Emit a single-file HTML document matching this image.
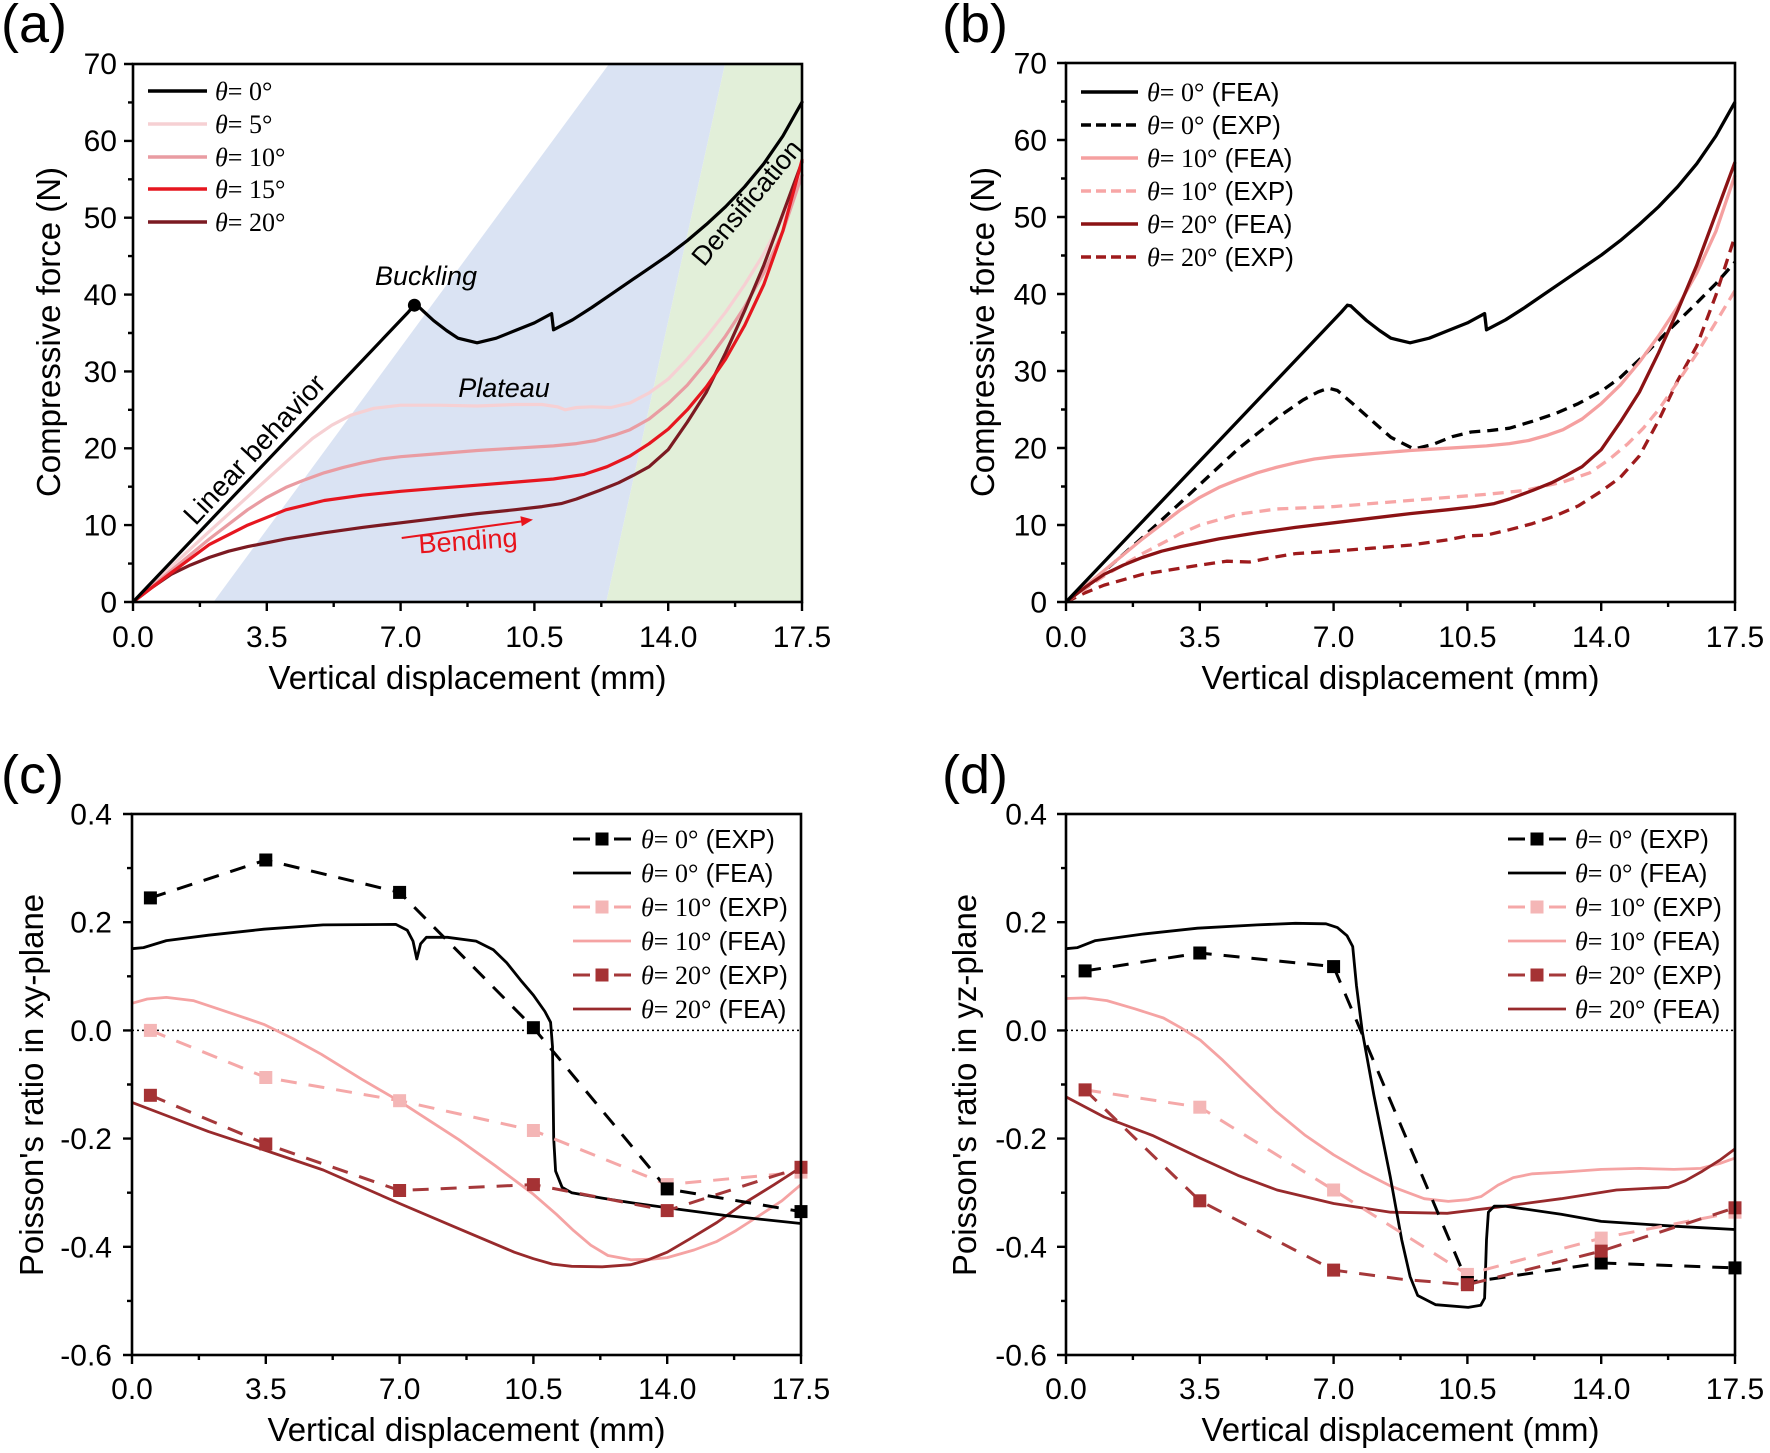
<!DOCTYPE html>
<html><head><meta charset="utf-8"><style>
html,body{margin:0;padding:0;background:#fff;}
svg{display:block;font-family:"Liberation Sans",Arial,sans-serif;}
.ser{font-family:"Liberation Serif","Times New Roman",serif;}
</style></head><body>
<svg width="1770" height="1453" viewBox="0 0 1770 1453" xmlns="http://www.w3.org/2000/svg">
<rect width="1770" height="1453" fill="#fff"/>

<!-- ================= PANEL (a) ================= -->
<g transform="translate(133,602)">
 <polygon points="80.5,0 476,-538 592,-538 473.3,0" fill="#dae3f3"/>
 <polygon points="473.3,0 592,-538 669,-538 669,0" fill="#e2efd9"/>
 <g fill="none" stroke-width="3.2" stroke-linejoin="round" stroke-linecap="round">
  <polyline stroke="#f6d0d3" points="0,0 38.2,-35.4 76.5,-70.7 114.7,-105.3 137.6,-126.1 160.6,-146.8 179.7,-163.7 198.8,-176.8 217.9,-186.8 240.8,-193.7 267.6,-196.8 305.8,-196.8 344.1,-196 382.3,-197.5 409,-197.5 424.4,-195.2 432,-192.2 443.5,-194.5 458.8,-195.2 477.9,-194.5 497,-199.1 516.1,-209.1 535.2,-222.9 554.3,-242.9 573.4,-265.2 592.6,-289.8 611.7,-317.4 630.8,-348.2 649.9,-384.3 669,-426.6"/>
  <polyline stroke="#e99ca2" points="0,0 38.2,-31.5 76.5,-63.1 114.7,-92.3 133.8,-104.6 152.9,-114.6 172,-122.3 191.2,-129.2 210.3,-134.6 229.4,-139.2 248.5,-143 267.6,-145.3 305.8,-148.4 344.1,-151.5 382.3,-153.8 420.5,-156.1 443.5,-158.4 462.6,-161.5 481.7,-166.9 497,-172.3 516.1,-183 535.2,-198.4 554.3,-216.9 573.4,-239.9 592.6,-266.1 611.7,-295.3 630.8,-329.1 649.9,-370.7 669,-426.8"/>
  <polyline stroke="#7b1a22" points="0,0 19.1,-14.6 38.2,-27.7 57.3,-36.9 76.5,-44.6 95.6,-50.8 114.7,-55.4 133.8,-59.2 152.9,-63.1 191.2,-69.2 229.4,-74.6 267.6,-79.2 305.8,-83.8 344.1,-88.4 382.3,-92.3 409.1,-95.4 428.2,-98.4 443.5,-103 466.4,-111.5 485.5,-119.2 500.8,-126.9 516.1,-135.3 535.2,-152.3 554.3,-179.9 573.4,-209.9 592.6,-249.2 611.7,-291.5 630.8,-336.8 649.9,-388.3 669,-439.9"/>
  <polyline stroke="#e6161f" points="0,0 38.2,-29.2 76.5,-57.6 114.7,-76.9 152.9,-92.2 191.2,-101.5 229.4,-106.8 267.6,-110.7 305.8,-113.8 344.1,-116.8 382.3,-119.9 420.5,-123 451.1,-127.6 474.1,-135.3 497,-146 516.1,-158.3 535.2,-172.9 554.3,-192.2 573.4,-215.2 592.6,-242.9 611.7,-276.7 630.8,-317.4 649.9,-371.2 669,-441.9"/>
  <polyline stroke="#000" points="0,0 275.3,-289.9 281.4,-296.8 284.8,-296.1 290.5,-290.7 300.5,-281.5 313.5,-271.5 325,-263.8 344.1,-259.2 363.2,-263.8 382.3,-271.5 401.4,-279.1 418.6,-288.4 420.5,-272.2 439.6,-282.2 458.8,-294.5 477.9,-307.6 497,-320.7 516.1,-333.7 535.2,-346.8 554.3,-361.4 573.4,-377.6 592.6,-395.3 611.7,-415.3 630.8,-438.3 649.9,-466 669,-499.9"/>
 </g>
 <circle cx="281.4" cy="-296.8" r="6.5" fill="#000"/>
 <rect x="0" y="-538" width="669" height="538" fill="none" stroke="#000" stroke-width="2.6"/>
 <path d="M0,0v9M133.8,0v9M267.6,0v9M401.4,0v9M535.2,0v9M669,0v9M66.9,0v5M200.7,0v5M334.5,0v5M468.3,0v5M602.1,0v5M0,0h-9M0,-76.9h-9M0,-153.7h-9M0,-230.6h-9M0,-307.4h-9M0,-384.3h-9M0,-461.1h-9M0,-538h-9M0,-38.4h-5M0,-115.3h-5M0,-192.2h-5M0,-269h-5M0,-345.9h-5M0,-422.7h-5M0,-499.6h-5" stroke="#000" stroke-width="2.4" fill="none"/>
</g>
<!-- annotations (a) -->
<text x="426" y="285" font-size="27" font-style="italic" text-anchor="middle">Buckling</text>
<text x="504" y="397" font-size="27" font-style="italic" text-anchor="middle">Plateau</text>
<text transform="translate(254,449) rotate(-47)" font-size="28" text-anchor="middle" y="10">Linear behavior</text>
<text transform="translate(746,202) rotate(-50)" font-size="27" text-anchor="middle" y="10">Densification</text>
<text transform="translate(468,542) rotate(-4)" font-size="27" fill="#e8141c" text-anchor="middle" y="8">Bending</text>
<line x1="401.7" y1="538" x2="522" y2="521.4" stroke="#e8141c" stroke-width="2"/>
<polygon points="533,519.6 521.8,526.2 520.4,516.2" fill="#e8141c"/>
<!-- legend (a) -->
<g stroke-width="3.6">
 <line x1="148" y1="91" x2="207" y2="91" stroke="#000"/>
 <line x1="148" y1="124" x2="207" y2="124" stroke="#f6d0d3"/>
 <line x1="148" y1="157" x2="207" y2="157" stroke="#e99ca2"/>
 <line x1="148" y1="189" x2="207" y2="189" stroke="#e6161f"/>
 <line x1="148" y1="222" x2="207" y2="222" stroke="#7b1a22"/>
</g>
<g font-size="26" class="ser">
 <text x="215" y="100"><tspan font-style="italic">θ</tspan>= 0°</text>
 <text x="215" y="133"><tspan font-style="italic">θ</tspan>= 5°</text>
 <text x="215" y="166"><tspan font-style="italic">θ</tspan>= 10°</text>
 <text x="215" y="198"><tspan font-style="italic">θ</tspan>= 15°</text>
 <text x="215" y="231"><tspan font-style="italic">θ</tspan>= 20°</text>
</g>
<!-- tick labels (a) -->
<g font-size="30" text-anchor="end">
 <text x="117" y="612.5">0</text><text x="117" y="535.6">10</text><text x="117" y="458.7">20</text><text x="117" y="381.8">30</text><text x="117" y="304.9">40</text><text x="117" y="228">50</text><text x="117" y="151.1">60</text><text x="117" y="74.2">70</text>
</g>
<g font-size="30" text-anchor="middle">
 <text x="133" y="647">0.0</text><text x="266.8" y="647">3.5</text><text x="400.6" y="647">7.0</text><text x="534.4" y="647">10.5</text><text x="668.2" y="647">14.0</text><text x="802" y="647">17.5</text>
</g>
<text x="467.5" y="689" font-size="33" text-anchor="middle">Vertical displacement (mm)</text>
<text transform="translate(60,332) rotate(-90)" font-size="33" text-anchor="middle">Compressive force (N)</text>
<text x="1" y="42" font-size="54">(a)</text>

<!-- ================= PANEL (b) ================= -->
<g transform="translate(1066,602)">
 <g fill="none" stroke-width="3.3" stroke-linejoin="round">
  <polyline stroke="#9e1a1c" stroke-dasharray="11 7" points="0,0 19.1,-9.2 38.2,-16.9 76.5,-27.7 114.7,-33.8 133.8,-36.9 160.6,-40.8 183.5,-40 202.6,-43.8 229.4,-48.4 267.6,-50.8 305.8,-53.8 344.1,-56.9 382.3,-62.3 401.4,-66.1 420.5,-66.9 443.5,-72.3 466.4,-78.4 489.3,-86.1 512.3,-96.1 535.2,-110.7 554.3,-124.6 573.4,-146.1 592.6,-181.5 611.7,-221.5 630.8,-256.1 649.9,-306.8 669,-366"/>
  <polyline stroke="#f7a6a6" stroke-dasharray="11 7" points="0,0 38.2,-26.1 76.5,-48.4 114.7,-68.4 133.8,-76.9 172,-87.7 210.3,-93 267.6,-95.4 325,-100 382.3,-104.6 420.5,-107.7 458.8,-111.5 497,-120 523.8,-129.2 542.9,-142.3 562,-158.4 577.3,-173.8 592.6,-192.3 611.7,-219.9 630.8,-248.4 649.9,-279.9 669,-311.4"/>
  <polyline stroke="#000" stroke-dasharray="11 7" points="0,0 38.2,-30.8 76.5,-64.5 114.7,-99.5 133.8,-117.5 172,-153 210.3,-183.5 237,-202 252.3,-210.2 262.6,-213.8 271.4,-211.5 286.7,-198.4 305.8,-181.5 325,-164.6 347.9,-153 367,-157.6 386.1,-165.3 405.2,-170 424.4,-171.5 443.5,-173.8 466.4,-180.7 489.3,-188.4 512.3,-198.4 535.2,-210.7 554.3,-224.5 577.3,-246.1 600.2,-269.2 627,-295.3 649.9,-318.4 669,-339.9"/>
  <polyline stroke="#f5a0a0" points="0,0 38.2,-31.5 76.5,-63.1 114.7,-92.3 133.8,-104.6 152.9,-114.6 172,-122.3 191.2,-129.2 210.3,-134.6 229.4,-139.2 248.5,-143 267.6,-145.3 305.8,-148.4 344.1,-151.5 382.3,-153.8 420.5,-156.1 443.5,-158.4 462.6,-161.5 481.7,-166.9 497,-172.3 516.1,-183 535.2,-198.4 554.3,-216.9 573.4,-239.9 592.6,-266.1 611.7,-295.3 630.8,-329.1 649.9,-370.7 669,-426.8"/>
  <polyline stroke="#8b1214" points="0,0 19.1,-14.6 38.2,-27.7 57.3,-36.9 76.5,-44.6 95.6,-50.8 114.7,-55.4 133.8,-59.2 152.9,-63.1 191.2,-69.2 229.4,-74.6 267.6,-79.2 305.8,-83.8 344.1,-88.4 382.3,-92.3 409.1,-95.4 428.2,-98.4 443.5,-103 466.4,-111.5 485.5,-119.2 500.8,-126.9 516.1,-135.3 535.2,-152.3 554.3,-179.9 573.4,-209.9 592.6,-249.2 611.7,-291.5 630.8,-336.8 649.9,-388.3 669,-439.9"/>
  <polyline stroke="#000" points="0,0 275.3,-289.9 281.4,-296.8 284.8,-296.1 290.5,-290.7 300.5,-281.5 313.5,-271.5 325,-263.8 344.1,-259.2 363.2,-263.8 382.3,-271.5 401.4,-279.1 418.6,-288.4 420.5,-272.2 439.6,-282.2 458.8,-294.5 477.9,-307.6 497,-320.7 516.1,-333.7 535.2,-346.8 554.3,-361.4 573.4,-377.6 592.6,-395.3 611.7,-415.3 630.8,-438.3 649.9,-466 669,-499.9"/>
 </g>
 <rect x="0" y="-539" width="669" height="539" fill="none" stroke="#000" stroke-width="2.6"/>
 <path d="M0,0v9M133.8,0v9M267.6,0v9M401.4,0v9M535.2,0v9M669,0v9M66.9,0v5M200.7,0v5M334.5,0v5M468.3,0v5M602.1,0v5M0,0h-9M0,-77h-9M0,-154h-9M0,-231h-9M0,-308h-9M0,-385h-9M0,-462h-9M0,-539h-9M0,-38.5h-5M0,-115.5h-5M0,-192.5h-5M0,-269.5h-5M0,-346.5h-5M0,-423.5h-5M0,-500.5h-5" stroke="#000" stroke-width="2.4" fill="none"/>
</g>
<!-- legend (b) -->
<g stroke-width="3.4">
 <line x1="1081" y1="92" x2="1138" y2="92" stroke="#000"/>
 <line x1="1081" y1="125" x2="1138" y2="125" stroke="#000" stroke-dasharray="10 5"/>
 <line x1="1081" y1="158" x2="1138" y2="158" stroke="#f5a0a0"/>
 <line x1="1081" y1="191" x2="1138" y2="191" stroke="#f7a6a6" stroke-dasharray="10 5"/>
 <line x1="1081" y1="224" x2="1138" y2="224" stroke="#8b1214"/>
 <line x1="1081" y1="257" x2="1138" y2="257" stroke="#9e1a1c" stroke-dasharray="10 5"/>
</g>
<g font-size="26">
 <text x="1147" y="101"><tspan class="ser" font-style="italic">θ</tspan><tspan class="ser">= 0°</tspan> (FEA)</text>
 <text x="1147" y="134"><tspan class="ser" font-style="italic">θ</tspan><tspan class="ser">= 0°</tspan> (EXP)</text>
 <text x="1147" y="167"><tspan class="ser" font-style="italic">θ</tspan><tspan class="ser">= 10°</tspan> (FEA)</text>
 <text x="1147" y="200"><tspan class="ser" font-style="italic">θ</tspan><tspan class="ser">= 10°</tspan> (EXP)</text>
 <text x="1147" y="233"><tspan class="ser" font-style="italic">θ</tspan><tspan class="ser">= 20°</tspan> (FEA)</text>
 <text x="1147" y="266"><tspan class="ser" font-style="italic">θ</tspan><tspan class="ser">= 20°</tspan> (EXP)</text>
</g>
<g font-size="30" text-anchor="end">
 <text x="1047" y="612.5">0</text><text x="1047" y="535.5">10</text><text x="1047" y="458.5">20</text><text x="1047" y="381.5">30</text><text x="1047" y="304.5">40</text><text x="1047" y="227.5">50</text><text x="1047" y="150.5">60</text><text x="1047" y="73.5">70</text>
</g>
<g font-size="30" text-anchor="middle">
 <text x="1066" y="647">0.0</text><text x="1199.8" y="647">3.5</text><text x="1333.6" y="647">7.0</text><text x="1467.4" y="647">10.5</text><text x="1601.2" y="647">14.0</text><text x="1735" y="647">17.5</text>
</g>
<text x="1400.5" y="689" font-size="33" text-anchor="middle">Vertical displacement (mm)</text>
<text transform="translate(994,332) rotate(-90)" font-size="33" text-anchor="middle">Compressive force (N)</text>
<text x="942" y="42" font-size="54">(b)</text>

<!-- ================= PANEL (c) ================= -->
<line x1="132" y1="1030.4" x2="801" y2="1030.4" stroke="#000" stroke-width="1.5" stroke-dasharray="2 3"/>
<g transform="translate(132,1030.4)">
 <g fill="none" stroke-width="2.8" stroke-linejoin="round">
  <polyline stroke="#f5a3a3" points="0,-27.1 15.3,-31.4 34.4,-33 61.2,-29.8 86,-21.6 114.7,-11.9 131.9,-6 160.6,8.1 189.2,23.8 229.4,48.7 267.6,70.9 326.9,109.3 363.2,135.3 401.4,163.9 424.4,183.9 441.6,200.2 458.8,214.8 475.9,225.1 498.9,229.4 519.9,228.8 535.2,227.2 562,219.6 584.9,211 604,200.2 625.1,186.6 649.9,170.4 669,154.2"/>
  <polyline stroke="#982a2c" points="0,72 38.2,86.6 76.5,101.2 133.8,120.1 191.2,139.6 267.6,173.1 325,197.5 382.3,221.8 401.4,228.3 420.5,233.7 439.6,235.9 470.2,236.4 498.9,234.3 516.1,229.4 535.2,221.8 558.2,208.3 584.9,192.1 611.7,173.1 642.3,154.2 669,136.9"/>
  <polyline stroke="#000" points="0,-81.7 11.5,-82.8 34.4,-89.8 76.5,-95.2 131.9,-101.2 191.2,-105.5 263.8,-106 275.3,-100.1 281,-89.3 284.8,-71.4 288.6,-86.6 294.4,-93.1 315.4,-93.1 344.1,-89.3 361.3,-80.6 374.7,-67.6 389.9,-48.7 401.4,-35.2 412.9,-18.9 418.6,-8.1 420.5,16.2 421.7,108.2 423.6,140.7 430.1,156.9 439.6,162.3 470.2,167.7 497,172 535.2,177.4 592.6,185 669,193.1"/>
  <polyline stroke="#f5a8a8" stroke-width="3" stroke-dasharray="16 12" points="18.4,0 133.8,47.1 267.6,70.3 401.4,100.1 535.2,154.2 669,141.7"/>
  <polyline stroke="#a5383a" stroke-width="3" stroke-dasharray="16 12" points="18.4,64.9 133.8,113.6 267.6,160.1 401.4,154.2 535.2,180.2 669,136.9"/>
  <polyline stroke="#000" stroke-width="3" stroke-dasharray="16 12" points="18.4,-132.5 133.8,-170.4 267.6,-138 401.4,-2.7 535.2,158.5 669,181.2"/>
 </g>
 <g fill="#f4b6b6">
  <rect x="11.9" y="-6.5" width="13" height="13"/><rect x="127.3" y="40.6" width="13" height="13"/><rect x="261.1" y="63.8" width="13" height="13"/><rect x="394.9" y="93.6" width="13" height="13"/><rect x="528.7" y="147.7" width="13" height="13"/><rect x="662.5" y="135.2" width="13" height="13"/>
 </g>
 <g fill="#a53234">
  <rect x="11.9" y="58.4" width="13" height="13"/><rect x="127.3" y="107.1" width="13" height="13"/><rect x="261.1" y="153.6" width="13" height="13"/><rect x="394.9" y="147.7" width="13" height="13"/><rect x="528.7" y="173.7" width="13" height="13"/><rect x="662.5" y="130.4" width="13" height="13"/>
 </g>
 <g fill="#000">
  <rect x="11.9" y="-139" width="13" height="13"/><rect x="127.3" y="-176.9" width="13" height="13"/><rect x="261.1" y="-144.5" width="13" height="13"/><rect x="394.9" y="-9.2" width="13" height="13"/><rect x="528.7" y="152" width="13" height="13"/><rect x="662.5" y="174.7" width="13" height="13"/>
 </g>
</g>
<g transform="translate(132,1355)">
 <rect x="0" y="-541" width="669" height="541" fill="none" stroke="#000" stroke-width="2.6"/>
 <path d="M0,0v9M133.8,0v9M267.6,0v9M401.4,0v9M535.2,0v9M669,0v9M66.9,0v5M200.7,0v5M334.5,0v5M468.3,0v5M602.1,0v5M0,0h-9M0,-108.2h-9M0,-216.4h-9M0,-324.6h-9M0,-432.8h-9M0,-541h-9M0,-54.1h-5M0,-162.3h-5M0,-270.5h-5M0,-378.7h-5M0,-486.9h-5" stroke="#000" stroke-width="2.4" fill="none"/>
</g>
<!-- legend (c) -->
<g stroke-width="3">
 <line x1="573" y1="839" x2="590" y2="839" stroke="#000"/><line x1="614" y1="839" x2="631" y2="839" stroke="#000"/>
 <rect x="595.5" y="832.5" width="13" height="13" fill="#000" stroke="none"/>
 <line x1="573" y1="873" x2="631" y2="873" stroke="#000" stroke-width="2.8"/>
 <line x1="573" y1="907" x2="590" y2="907" stroke="#f5a8a8"/><line x1="614" y1="907" x2="631" y2="907" stroke="#f5a8a8"/>
 <rect x="595.5" y="900.5" width="13" height="13" fill="#f4b6b6" stroke="none"/>
 <line x1="573" y1="941" x2="631" y2="941" stroke="#f5a3a3" stroke-width="2.8"/>
 <line x1="573" y1="975" x2="590" y2="975" stroke="#a5383a"/><line x1="614" y1="975" x2="631" y2="975" stroke="#a5383a"/>
 <rect x="595.5" y="968.5" width="13" height="13" fill="#a53234" stroke="none"/>
 <line x1="573" y1="1009" x2="631" y2="1009" stroke="#982a2c" stroke-width="2.8"/>
</g>
<g font-size="26">
 <text x="641" y="848"><tspan class="ser" font-style="italic">θ</tspan><tspan class="ser">= 0°</tspan> (EXP)</text>
 <text x="641" y="882"><tspan class="ser" font-style="italic">θ</tspan><tspan class="ser">= 0°</tspan> (FEA)</text>
 <text x="641" y="916"><tspan class="ser" font-style="italic">θ</tspan><tspan class="ser">= 10°</tspan> (EXP)</text>
 <text x="641" y="950"><tspan class="ser" font-style="italic">θ</tspan><tspan class="ser">= 10°</tspan> (FEA)</text>
 <text x="641" y="984"><tspan class="ser" font-style="italic">θ</tspan><tspan class="ser">= 20°</tspan> (EXP)</text>
 <text x="641" y="1018"><tspan class="ser" font-style="italic">θ</tspan><tspan class="ser">= 20°</tspan> (FEA)</text>
</g>
<g font-size="30" text-anchor="end">
 <text x="112" y="824.5">0.4</text><text x="112" y="932.7">0.2</text><text x="112" y="1040.9">0.0</text><text x="112" y="1149.1">-0.2</text><text x="112" y="1257.3">-0.4</text><text x="112" y="1365.5">-0.6</text>
</g>
<g font-size="30" text-anchor="middle">
 <text x="132" y="1399">0.0</text><text x="265.8" y="1399">3.5</text><text x="399.6" y="1399">7.0</text><text x="533.4" y="1399">10.5</text><text x="667.2" y="1399">14.0</text><text x="801" y="1399">17.5</text>
</g>
<text x="466.5" y="1441" font-size="33" text-anchor="middle">Vertical displacement (mm)</text>
<text transform="translate(43,1085) rotate(-90)" font-size="33" text-anchor="middle">Poisson's ratio in xy-plane</text>
<text x="1" y="793" font-size="54">(c)</text>

<!-- ================= PANEL (d) ================= -->
<line x1="1066" y1="1030.4" x2="1735" y2="1030.4" stroke="#000" stroke-width="1.5" stroke-dasharray="2 3"/>
<g transform="translate(1066,1030.4)">
 <g fill="none" stroke-width="2.8" stroke-linejoin="round">
  <polyline stroke="#f5a3a3" points="0,-31.9 19.1,-32.5 40.9,-29.8 68.8,-21.6 97.5,-12.4 114.7,-2.7 134.2,9.7 156.7,29.8 182.7,55.2 210.3,81.2 239.3,105 267.6,124.4 296.3,141.2 325,155.8 358.2,168.3 382.3,171 401.4,169.3 415.2,166.1 432,154.7 447.3,147.2 466.4,143.4 497,141.7 535.2,139 573.4,138 607.9,139 634.6,138 653.7,133.1 669,127.7"/>
  <polyline stroke="#982a2c" points="0,66.5 38.2,86.6 86.4,105 134.2,127.7 172,145 211,159.6 267.6,173.1 324.6,181.8 381.2,182.9 426.7,177.4 495.1,168.3 550.5,159.6 581.1,158 602.5,156.9 619.3,150.4 636.5,140.7 653.7,129.8 669,118.5"/>
  <polyline stroke="#000" points="0,-81.7 11.5,-82.8 29.4,-89.8 76.5,-96.3 131.5,-102.2 191.2,-105.5 229.4,-107.1 260,-106.6 271.4,-102.8 281,-94.7 286.7,-83.9 290.5,-44.4 296.3,1.1 307.8,64.4 324.2,146.1 335.7,209.4 344.1,246.2 351.7,265.1 369.7,274.3 402.2,277 414.8,274.8 418.6,267.8 420.5,209.4 422.4,181.8 428.2,175.8 439.6,175.8 495.1,183.9 535.2,191 607.9,195.8 669,199.1"/>
  <polyline stroke="#f5a8a8" stroke-width="3" stroke-dasharray="16 12" points="19.1,59.5 133.8,76.8 267.6,159.6 401.4,244 535.2,207.7 669,181.8"/>
  <polyline stroke="#000" stroke-width="3" stroke-dasharray="16 12" points="19.1,-59.5 133.8,-77.4 267.6,-63.8 401.4,252.1 535.2,232.6 669,237.5"/>
  <polyline stroke="#a5383a" stroke-width="3" stroke-dasharray="16 12" points="19.1,59.5 133.8,170.4 267.6,239.7 336.4,248.9 401.4,254.3 535.2,220.7 669,177.4"/>
 </g>
 <g fill="#f4b6b6">
  <rect x="12.6" y="53" width="13" height="13"/><rect x="127.3" y="70.3" width="13" height="13"/><rect x="261.1" y="153.1" width="13" height="13"/><rect x="394.9" y="237.5" width="13" height="13"/><rect x="528.7" y="201.2" width="13" height="13"/><rect x="662.5" y="175.3" width="13" height="13"/>
 </g>
 <g fill="#000">
  <rect x="12.6" y="-66" width="13" height="13"/><rect x="127.3" y="-83.9" width="13" height="13"/><rect x="261.1" y="-70.3" width="13" height="13"/><rect x="394.9" y="245.6" width="13" height="13"/><rect x="528.7" y="226.1" width="13" height="13"/><rect x="662.5" y="231" width="13" height="13"/>
 </g>
 <g fill="#a53234">
  <rect x="12.6" y="53" width="13" height="13"/><rect x="127.3" y="163.9" width="13" height="13"/><rect x="261.1" y="233.2" width="13" height="13"/><rect x="394.9" y="247.8" width="13" height="13"/><rect x="528.7" y="214.2" width="13" height="13"/><rect x="662.5" y="170.9" width="13" height="13"/>
 </g>
</g>
<g transform="translate(1066,1355)">
 <rect x="0" y="-541" width="669" height="541" fill="none" stroke="#000" stroke-width="2.6"/>
 <path d="M0,0v9M133.8,0v9M267.6,0v9M401.4,0v9M535.2,0v9M669,0v9M66.9,0v5M200.7,0v5M334.5,0v5M468.3,0v5M602.1,0v5M0,0h-9M0,-108.2h-9M0,-216.4h-9M0,-324.6h-9M0,-432.8h-9M0,-541h-9M0,-54.1h-5M0,-162.3h-5M0,-270.5h-5M0,-378.7h-5M0,-486.9h-5" stroke="#000" stroke-width="2.4" fill="none"/>
</g>
<!-- legend (d) -->
<g stroke-width="3">
 <line x1="1508" y1="839" x2="1525" y2="839" stroke="#000"/><line x1="1549" y1="839" x2="1566" y2="839" stroke="#000"/>
 <rect x="1530.5" y="832.5" width="13" height="13" fill="#000" stroke="none"/>
 <line x1="1508" y1="873" x2="1566" y2="873" stroke="#000" stroke-width="2.8"/>
 <line x1="1508" y1="907" x2="1525" y2="907" stroke="#f5a8a8"/><line x1="1549" y1="907" x2="1566" y2="907" stroke="#f5a8a8"/>
 <rect x="1530.5" y="900.5" width="13" height="13" fill="#f4b6b6" stroke="none"/>
 <line x1="1508" y1="941" x2="1566" y2="941" stroke="#f5a3a3" stroke-width="2.8"/>
 <line x1="1508" y1="975" x2="1525" y2="975" stroke="#a5383a"/><line x1="1549" y1="975" x2="1566" y2="975" stroke="#a5383a"/>
 <rect x="1530.5" y="968.5" width="13" height="13" fill="#a53234" stroke="none"/>
 <line x1="1508" y1="1009" x2="1566" y2="1009" stroke="#982a2c" stroke-width="2.8"/>
</g>
<g font-size="26">
 <text x="1575" y="848"><tspan class="ser" font-style="italic">θ</tspan><tspan class="ser">= 0°</tspan> (EXP)</text>
 <text x="1575" y="882"><tspan class="ser" font-style="italic">θ</tspan><tspan class="ser">= 0°</tspan> (FEA)</text>
 <text x="1575" y="916"><tspan class="ser" font-style="italic">θ</tspan><tspan class="ser">= 10°</tspan> (EXP)</text>
 <text x="1575" y="950"><tspan class="ser" font-style="italic">θ</tspan><tspan class="ser">= 10°</tspan> (FEA)</text>
 <text x="1575" y="984"><tspan class="ser" font-style="italic">θ</tspan><tspan class="ser">= 20°</tspan> (EXP)</text>
 <text x="1575" y="1018"><tspan class="ser" font-style="italic">θ</tspan><tspan class="ser">= 20°</tspan> (FEA)</text>
</g>
<g font-size="30" text-anchor="end">
 <text x="1047" y="824.5">0.4</text><text x="1047" y="932.7">0.2</text><text x="1047" y="1040.9">0.0</text><text x="1047" y="1149.1">-0.2</text><text x="1047" y="1257.3">-0.4</text><text x="1047" y="1365.5">-0.6</text>
</g>
<g font-size="30" text-anchor="middle">
 <text x="1066" y="1399">0.0</text><text x="1199.8" y="1399">3.5</text><text x="1333.6" y="1399">7.0</text><text x="1467.4" y="1399">10.5</text><text x="1601.2" y="1399">14.0</text><text x="1735" y="1399">17.5</text>
</g>
<text x="1400.5" y="1441" font-size="33" text-anchor="middle">Vertical displacement (mm)</text>
<text transform="translate(976,1085) rotate(-90)" font-size="33" text-anchor="middle">Poisson's ratio in yz-plane</text>
<text x="942" y="793" font-size="54">(d)</text>
</svg>
</body></html>
